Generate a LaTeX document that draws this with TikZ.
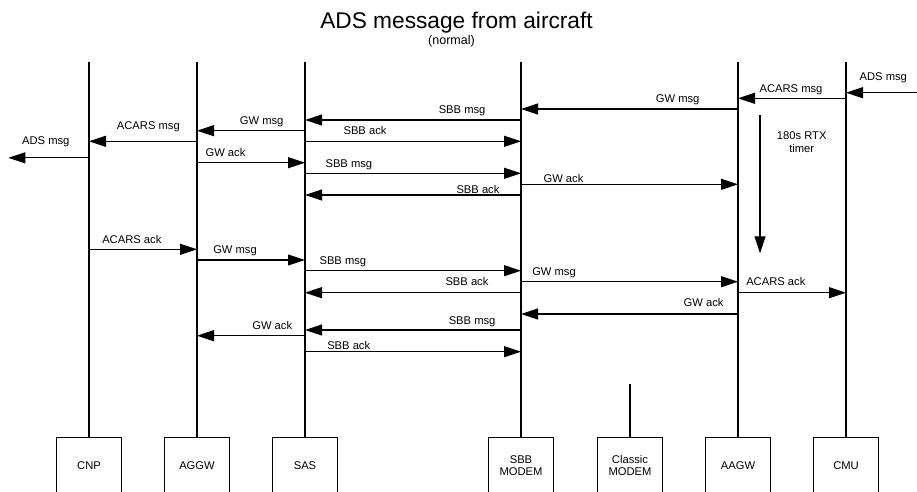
\documentclass[tikz,border=0pt]{standalone}
\usepackage{fontspec}
\setmainfont{Liberation Sans}
\usetikzlibrary{arrows.meta,positioning}

\begin{document}
\begin{tikzpicture}[x=1pt,y=-1pt,
  box/.style={draw, line width=1pt, minimum width=65pt, minimum height=56pt, anchor=north, align=center, inner sep=1pt, outer sep=0pt, font=\fontsize{11.2}{12.5}\selectfont},
  life/.style={line width=1.1pt},
  msg/.style={line width=1.1pt, -{Triangle[length=17pt,width=11pt]}},
  lbl/.style={inner sep=0pt, font=\fontsize{11.2}{12.3}\selectfont},
  node distance=43pt]
\useasboundingbox (0,0) rectangle (917,491);
\node[anchor=base, font=\fontsize{22.7}{26}\selectfont] (title) at (456.5,28.3) {ADS message from aircraft};
\node[anchor=base, font=\fontsize{12.5}{14}\selectfont] (subtitle) at (451.5,44) {(normal)};

% entities
\node[box] (cnp) at (89,437.5) {CNP};
\node[box, right=of cnp] (aggw) {AGGW};
\node[box, right=of aggw] (sas) {SAS};
\node[box, right=151pt of sas] (sbb) {SBB\\MODEM};
\node[box, right=44pt of sbb] (classic) {Classic\\MODEM};
\node[box, right=of classic] (aagw) {AAGW};
\node[box, right=of aagw] (cmu) {CMU};
\foreach \n in {cnp,aggw,sas,sbb,aagw,cmu} \draw[life] (\n.north) -- (\n.north |- 0,62);
\draw[life] (classic.north) -- (classic.north |- 0,384);

% ends off the page
\coordinate (adsin) at (917,92.7);
\coordinate (adsout) at (8.3,157.8);

% messages
\draw[msg] (adsin) -- (cmu |- adsin) node[lbl, anchor=base] at (883.3,80) {ADS msg};
\draw[msg] (cmu |- 0,98.3) -- (aagw |- 0,98.3) node[lbl, anchor=base east] at (823,92.3) {ACARS msg};
\draw[msg] (aagw |- 0,109) -- (sbb |- 0,109) node[lbl, anchor=base east] at (700,102.3) {GW msg};
\draw[msg] (sbb |- 0,120) -- (sas |- 0,120) node[lbl, anchor=base east] at (486,113.3) {SBB msg};
\draw[msg] (sas |- 0,130.7) -- (aggw |- 0,130.7) node[lbl, anchor=base east] at (284,124) {GW msg};
\draw[msg] (aggw |- 0,141.3) -- (cnp |- 0,141.3) node[lbl, anchor=base east] at (180.3,129.3) {ACARS msg};
\draw[msg] (sas |- 0,141.3) -- (sbb |- 0,141.3) node[lbl, anchor=base west] at (343,134.7) {SBB ack};
\draw[msg] (cnp |- adsout) -- (adsout) node[lbl, anchor=base east] at (70,144.5) {ADS msg};
\draw[msg] (aggw |- 0,162.7) -- (sas |- 0,162.7) node[lbl, anchor=base west] at (205,156) {GW ack};
\draw[msg] (sas |- 0,173.3) -- (sbb |- 0,173.3) node[lbl, anchor=base west] at (325,167.3) {SBB msg};
\draw[msg] (sbb |- 0,184.3) -- (aagw |- 0,184.3) node[lbl, anchor=base west] at (543,182) {GW ack};
\draw[msg] (sbb |- 0,195) -- (sas |- 0,195) node[lbl, anchor=base east] at (500,193) {SBB ack};
\draw[msg] (cnp |- 0,249.3) -- (aggw |- 0,249.3) node[lbl, anchor=base west] at (101.7,243) {ACARS ack};
\draw[msg] (aggw |- 0,260) -- (sas |- 0,260) node[lbl, anchor=base west] at (212.7,253.3) {GW msg};
\draw[msg] (sas |- 0,270.7) -- (sbb |- 0,270.7) node[lbl, anchor=base west] at (319,264.3) {SBB msg};
\draw[msg] (sbb |- 0,281.7) -- (aagw |- 0,281.7) node[lbl, anchor=base west] at (531.7,275) {GW msg};
\draw[msg] (aagw |- 0,292.7) -- (cmu |- 0,292.7) node[lbl, anchor=base west] at (745.7,285) {ACARS ack};
\draw[msg] (sbb |- 0,292.7) -- (sas |- 0,292.7) node[lbl, anchor=base east] at (489,285.7) {SBB ack};
\draw[msg] (aagw |- 0,314) -- (sbb |- 0,314) node[lbl, anchor=base east] at (724,306.7) {GW ack};
\draw[msg] (sbb |- 0,330) -- (sas |- 0,330) node[lbl, anchor=base east] at (496,324) {SBB msg};
\draw[msg] (sas |- 0,335.7) -- (aggw |- 0,335.7) node[lbl, anchor=base east] at (292.7,329) {GW ack};
\draw[msg] (sas |- 0,351.7) -- (sbb |- 0,351.7) node[lbl, anchor=base west] at (326.7,349) {SBB ack};

% retransmission timer
\coordinate (tmrstart) at (760,115);
\coordinate (tmrend) at (760,253.3);
\draw[msg] (tmrstart) -- (tmrend);
\node[lbl, align=center] (tmrtext) at (801.7,142) {180s RTX\\timer};
\end{tikzpicture}
\end{document}
